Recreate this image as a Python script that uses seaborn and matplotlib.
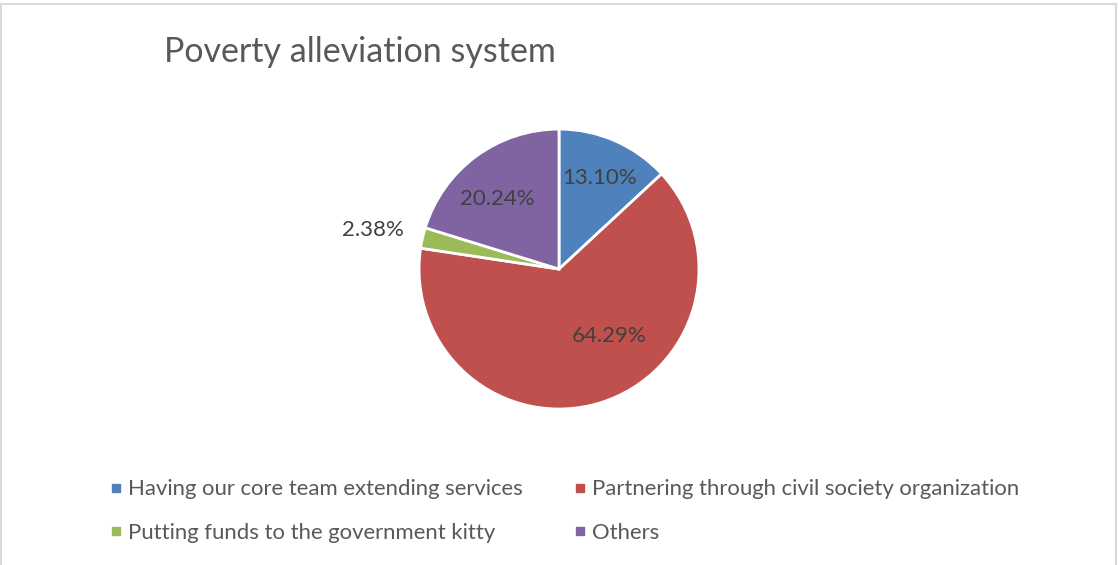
import matplotlib
matplotlib.use('Agg')
import matplotlib.pyplot as plt
import seaborn as sb
from matplotlib.lines import Line2D

categories = ['Having our core team extending services',
              'Partnering through civil society organization',
              'Putting funds to the government kitty',
              'Others']
shares = [13.10, 64.29, 2.38, 20.24]
colors = ['#4f81bd', '#c0504d', '#9bbb59', '#8064a2']
pct_labels = ['13.10%', '64.29%', '2.38%', '20.24%']

sb.set_style('white')
plt.rcParams['font.family'] = ['Lato', 'DejaVu Sans']

fig = plt.figure(figsize=(11.18, 5.65), dpi=100)
fig.patch.set_facecolor('white')

ax = fig.add_axes([0.3748, 0.276, 0.2504, 0.4956])
wedges, _ = ax.pie(shares, colors=colors, startangle=90, counterclock=False,
                   wedgeprops=dict(edgecolor='white', linewidth=2))
ax.set_xlim(-1, 1)
ax.set_ylim(-1, 1)
ax.set_aspect('equal')

# label spots (radius units from centre)
label_pos = [(0.29, 0.65), (0.36, -0.48), (-1.33, 0.28), (-0.44, 0.50)]
for (x, y), t in zip(label_pos, pct_labels):
    ax.text(x, y, t, ha='center', va='center', fontsize=16, color='#404040')

fig.text(0.147, 0.908, 'Poverty alleviation system', fontsize=24.5,
         color='#595959', ha='left', va='center')

handles = [Line2D([0], [0], marker='s', linestyle='', markersize=6,
                  markerfacecolor=c, markeredgecolor=c) for c in colors]
# legend fills column-wise, so reorder to read row by row
order = [0, 2, 1, 3]
fig.legend([handles[i] for i in order], [categories[i] for i in order],
           ncol=2, loc='upper left', bbox_to_anchor=(0.085, 0.179),
           frameon=False, fontsize=15.9, labelcolor='#595959',
           handlelength=0.5, handletextpad=0.3, columnspacing=2.35,
           labelspacing=1.06, borderpad=0.2)

# chart border
for xs, ys in [([0.001, 0.001], [0, 0.993]), ([0.001, 0.998], [0.993, 0.993]),
               ([0.998, 0.998], [0, 0.993])]:
    fig.add_artist(Line2D(xs, ys, color='#d9d9d9', linewidth=1.5,
                          transform=fig.transFigure))

fig.savefig('out.png', dpi=100)
